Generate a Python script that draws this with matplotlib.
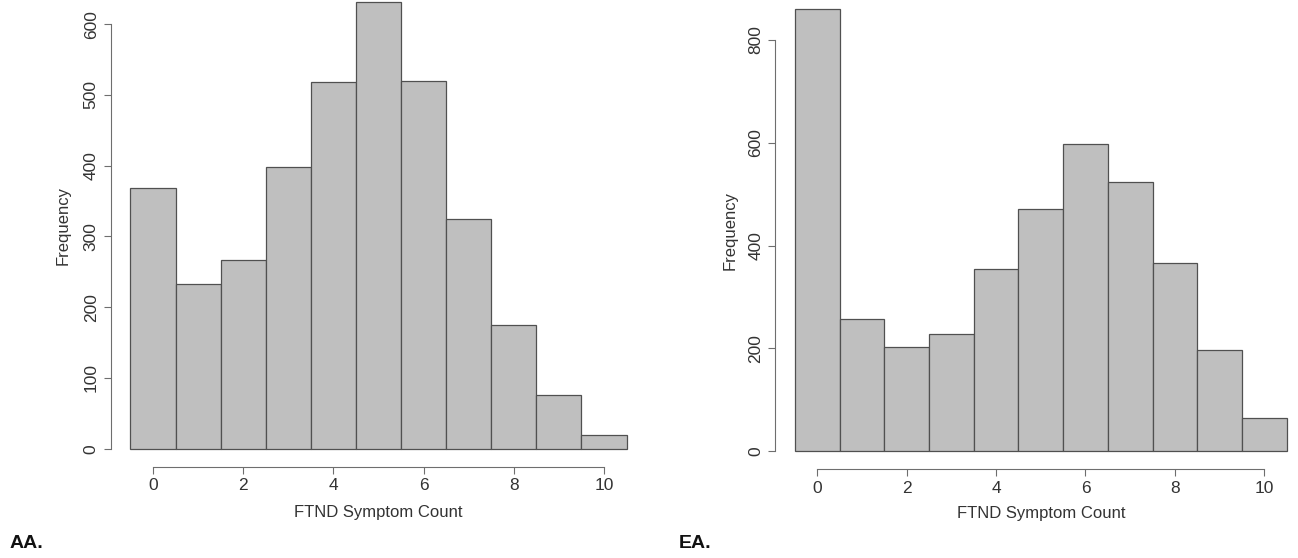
import matplotlib.pyplot as plt

plt.rcParams['font.family'] = ['Liberation Sans', 'DejaVu Sans']

# FTND symptom count histograms
symptom_counts = list(range(11))
freq_aa = [368, 233, 266, 398, 518, 631, 520, 324, 175, 76, 20]
freq_ea = [860, 257, 202, 229, 354, 471, 597, 524, 366, 197, 64]
yticks_aa = [0, 100, 200, 300, 400, 500, 600]
yticks_ea = [0, 200, 400, 600, 800]
xticks = [0, 2, 4, 6, 8, 10]

W, H = 1298, 558
fig = plt.figure(figsize=(W / 100, H / 100), dpi=100)

axis_col = '#6e6e6e'
text_col = '#333333'


def panel(x0, width, y_bottom, height, freq, yticks, lab_x, lab_y):
    # axes in pixel coords of the picture (R style plot region, 4% padding)
    ax = fig.add_axes([x0 / W, 1 - y_bottom / H, width / W, height / H])
    ax.bar(symptom_counts, freq, width=1.0, color='#bfbfbf',
           edgecolor='#505050', linewidth=0.9)
    top = max(freq)
    ax.set_xlim(-0.5 - 0.44, 10.5 + 0.44)
    ax.set_ylim(-0.04 * top, 1.04 * top)
    for s in ['top', 'right']:
        ax.spines[s].set_visible(False)
    for s in ['left', 'bottom']:
        ax.spines[s].set_color(axis_col)
        ax.spines[s].set_linewidth(0.8)
    ax.spines['left'].set_bounds(yticks[0], yticks[-1])
    ax.spines['bottom'].set_bounds(xticks[0], xticks[-1])
    ax.set_xticks(xticks)
    ax.set_yticks(yticks)
    ax.set_yticklabels([str(v) for v in yticks], rotation=90, va='center')
    ax.tick_params(axis='y', length=5, width=0.8, color=axis_col,
                   labelsize=12.5, labelcolor=text_col, pad=3.5)
    ax.tick_params(axis='x', length=4.8, width=0.8, color=axis_col,
                   labelsize=12.5, labelcolor=text_col, pad=3.5)
    ax.set_ylabel('Frequency', fontsize=12, color=text_col)
    ax.yaxis.set_label_coords(lab_x, 0.5)
    ax.yaxis.label.set_va('center')
    ax.set_xlabel('FTND Symptom Count', fontsize=12, color=text_col)
    ax.xaxis.set_label_coords(0.5, lab_y)
    ax.xaxis.label.set_va('center')
    ax.patch.set_visible(False)
    return ax


panel(110.6, 535.8, 466.6, 482.3, freq_aa, yticks_aa, -0.088, -0.095)
panel(775.3, 531.0, 469.0, 477.6, freq_ea, yticks_ea, -0.085, -0.094)

fig.text(10 / W, 1 - 548 / H, 'AA.', fontsize=14, fontweight='bold',
         color='#111111', va='baseline', ha='left')
fig.text(679 / W, 1 - 548 / H, 'EA.', fontsize=14, fontweight='bold',
         color='#111111', va='baseline', ha='left')

fig.savefig('out.png', dpi=100)
